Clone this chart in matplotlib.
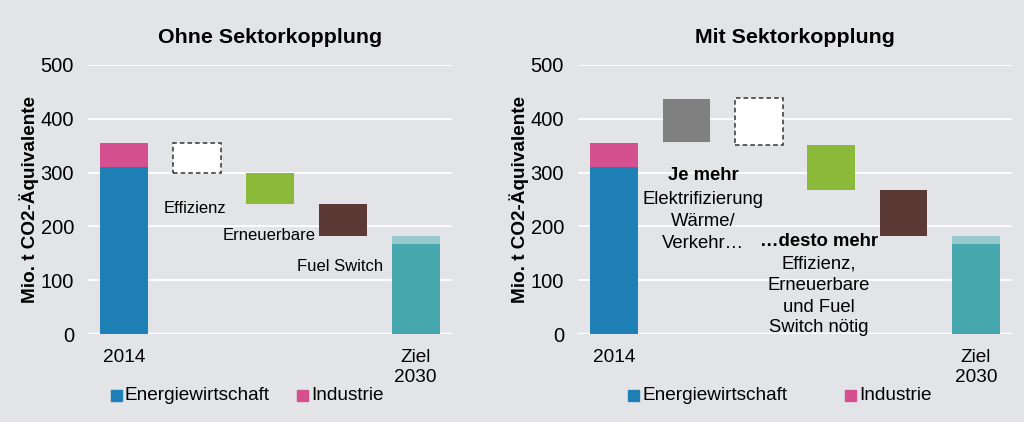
import matplotlib.pyplot as plt
import matplotlib.transforms as mtransforms
from matplotlib.patches import Rectangle

plt.rcParams["font.family"] = ["Liberation Sans", "DejaVu Sans"]

# ---- data (Mio. t CO2-Äquivalente) ----
energie_2014 = 310
industrie_2014 = 45
ziel_2030 = 167
ziel_2030_top = 15

# left panel: floating steps (bottom, top)
left_steps = ["Effizienz", "Erneuerbare", "Fuel Switch"]
left_bottom = [299, 242, 182]
left_top = [355, 299, 242]

# right panel: floating steps (bottom, top)
right_steps = ["Elektrifizierung", "Effizienz", "Erneuerbare", "Fuel Switch"]
right_bottom = [357, 351, 268, 182]
right_top = [437, 439, 351, 268]

BG = "#e3e4e8"
C_ENERGIE = "#1f80b5"
C_INDUSTRIE = "#d4508f"
C_ZIEL = "#46a7ad"
C_ZIEL_TOP = "#97c9cd"
step_colors = {"Elektrifizierung": "#808080", "Effizienz": "white",
               "Erneuerbare": "#8bba3b", "Fuel Switch": "#5b3a35"}

W = 0.66

fig = plt.figure(figsize=(10.24, 4.22), dpi=100, facecolor=BG)
axL = fig.add_axes([88 / 1024, 1 - 334 / 422, 364 / 1024, 269 / 422])
axR = fig.add_axes([578 / 1024, 1 - 334 / 422, 434 / 1024, 269 / 422])


def draw(ax, steps, bottoms, tops, title):
    n = len(steps) + 2
    ax.set_facecolor(BG)
    ax.set_xlim(-0.5, n - 0.5)
    ax.set_ylim(0, 500)
    for s in ax.spines.values():
        s.set_visible(False)
    ax.set_yticks(range(0, 501, 100))
    ax.tick_params(axis="y", length=0, labelsize=14.5, pad=10)
    ax.set_xticks([])
    ax.grid(axis="y", color="white", linewidth=1.3)
    ax.axhline(0, color="white", linewidth=2.5)
    ax.set_axisbelow(True)

    ax.bar(0, energie_2014, W, color=C_ENERGIE, zorder=3)
    ax.bar(0, industrie_2014, W, bottom=energie_2014, color=C_INDUSTRIE, zorder=3)
    for i, (name, b, t) in enumerate(zip(steps, bottoms, tops), start=1):
        if name == "Effizienz":
            ax.bar(i, t - b, W, bottom=b, color="white", edgecolor="#333333",
                   linestyle=(0, (3, 2)), linewidth=1.1, zorder=3)
        else:
            ax.bar(i, t - b, W, bottom=b, color=step_colors[name], zorder=3)
    ax.bar(n - 1, ziel_2030, W, color=C_ZIEL, zorder=3)
    ax.bar(n - 1, ziel_2030_top, W, bottom=ziel_2030, color=C_ZIEL_TOP, zorder=3)

    ax.set_ylabel("Mio. t CO2-Äquivalente", fontsize=13.6, fontweight="bold", labelpad=1)
    ax.set_title(title, fontsize=15.4, fontweight="bold", pad=16)

    tr = mtransforms.blended_transform_factory(ax.transData, fig.transFigure)
    ax.text(0, 1 - 357 / 422, "2014", transform=tr, ha="center", va="center", fontsize=13.7)
    ax.text(n - 1, 1 - 358 / 422, "Ziel", transform=tr, ha="center", va="center", fontsize=13.7)
    ax.text(n - 1, 1 - 378 / 422, "2030", transform=tr, ha="center", va="center", fontsize=13.7)


draw(axL, left_steps, left_bottom, left_top, "Ohne Sektorkopplung")
draw(axR, right_steps, right_bottom, right_top, "Mit Sektorkopplung")

# left annotations
axL.text(0.54, 234, "Effizienz", ha="left", va="center", fontsize=12)
axL.text(1.35, 184, "Erneuerbare", ha="left", va="center", fontsize=12)
axL.text(2.37, 125, "Fuel Switch", ha="left", va="center", fontsize=12)

# right annotations, one line at a time (pixel rows converted to data)
def line(x, y_px, s, bold=False):
    axR.text(x, (334 - y_px) / 0.538, s, ha="center", va="center", fontsize=13.3,
             fontweight="bold" if bold else "normal")


line(1.23, 176, "Je mehr", bold=True)
line(1.23, 199, "Elektrifizierung")
line(1.23, 222, "Wärme/")
line(1.23, 244, "Verkehr…")
line(2.83, 242, "…desto mehr", bold=True)
line(2.83, 264, "Effizienz,")
line(2.83, 286, "Erneuerbare")
line(2.83, 307, "und Fuel")
line(2.83, 328, "Switch nötig")

# legends
def legend(x_energie, x_industrie):
    y = 1 - 395 / 422
    for x, label, c in [(x_energie, "Energiewirtschaft", C_ENERGIE),
                        (x_industrie, "Industrie", C_INDUSTRIE)]:
        fig.patches.append(Rectangle((x / 1024, y - 5.5 / 422), 11 / 1024, 11 / 422,
                                     transform=fig.transFigure, color=c, figure=fig))
        fig.text((x + 14) / 1024, y, label, ha="left", va="center", fontsize=13.7)


legend(111, 297)
legend(628, 845)

fig.savefig("out.png", dpi=100, facecolor=BG)
